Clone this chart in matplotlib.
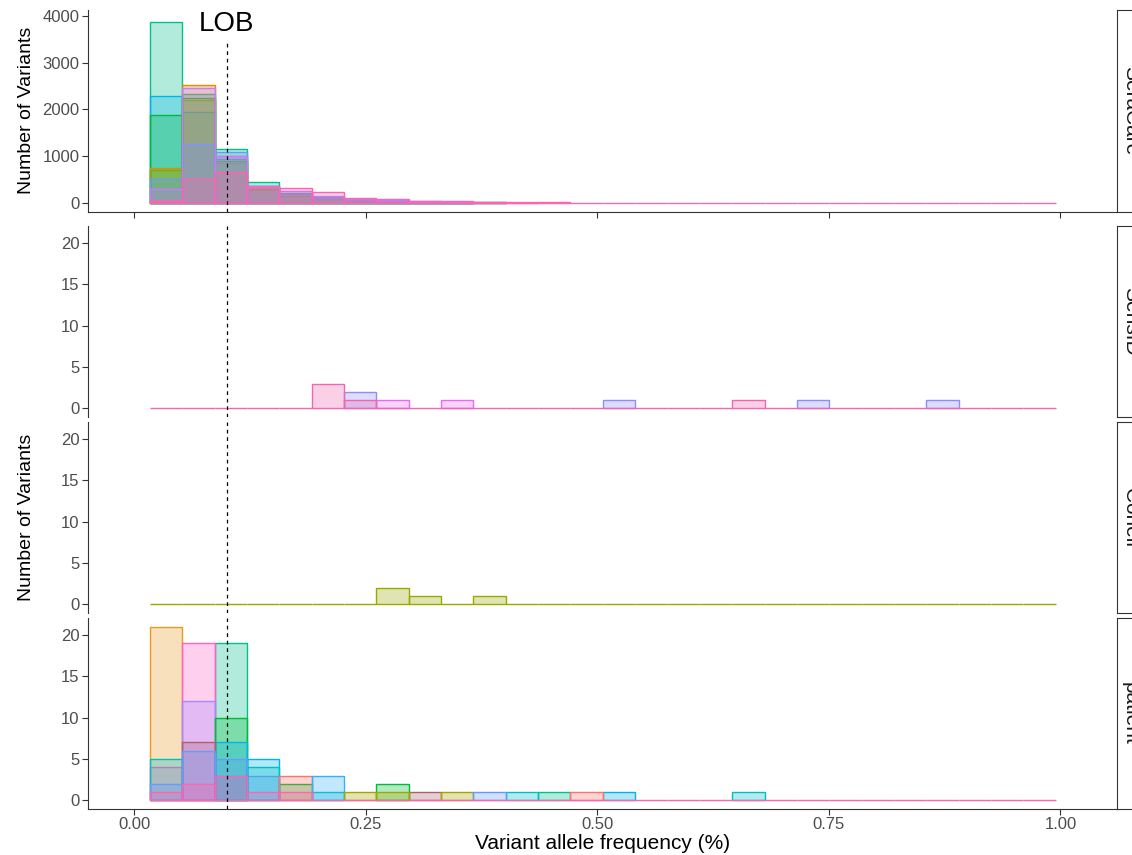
import numpy as np
import matplotlib
matplotlib.use('Agg')
import matplotlib.pyplot as plt

plt.rcParams['font.family'] = ['Liberation Sans', 'DejaVu Sans']

# bins of the histogram (28 bins over the observed VAF range)
vaf_min = 0.017
vaf_max = 0.995
n_bins = 28
lob = 0.1

# SeraCare counts per bin, one list per sample
sc_mint   = [3870, 2330, 1155, 455, 210, 130, 70, 50, 30, 20, 12, 0, 0, 0, 0, 0, 0, 0, 0, 0, 0, 0, 0, 0, 0, 0, 0, 0]
sc_cyan   = [2290, 1940, 940, 365, 200, 120, 60, 40, 25, 15, 10, 0, 0, 0, 0, 0, 0, 0, 0, 0, 0, 0, 0, 0, 0, 0, 0, 0]
sc_green  = [1890, 2240, 900, 300, 160, 90, 50, 30, 20, 10, 0, 0, 0, 0, 0, 0, 0, 0, 0, 0, 0, 0, 0, 0, 0, 0, 0, 0]
sc_orange = [750, 2517, 1000, 330, 180, 100, 55, 35, 20, 12, 0, 0, 0, 0, 0, 0, 0, 0, 0, 0, 0, 0, 0, 0, 0, 0, 0, 0]
sc_olive  = [700, 2200, 850, 280, 150, 90, 45, 30, 18, 10, 0, 0, 0, 0, 0, 0, 0, 0, 0, 0, 0, 0, 0, 0, 0, 0, 0, 0]
sc_blue   = [520, 1260, 1090, 365, 200, 110, 60, 35, 20, 12, 0, 0, 0, 0, 0, 0, 0, 0, 0, 0, 0, 0, 0, 0, 0, 0, 0, 0]
sc_purple = [300, 2460, 1000, 350, 250, 150, 80, 60, 35, 25, 15, 10, 0, 0, 0, 0, 0, 0, 0, 0, 0, 0, 0, 0, 0, 0, 0, 0]
sc_pink   = [60, 510, 670, 370, 320, 235, 100, 80, 50, 40, 25, 20, 15, 10, 8, 6, 5, 4, 3, 3, 2, 2, 1, 1, 1, 1, 1, 0]

# SensID
sid_lav     = [0, 0, 0, 0, 0, 0, 2, 0, 0, 0, 0, 0, 0, 0, 1, 0, 0, 0, 0, 0, 1, 0, 0, 0, 1, 0, 0, 0]
sid_magenta = [0, 0, 0, 0, 0, 0, 0, 1, 0, 1, 0, 0, 0, 0, 0, 0, 0, 0, 0, 0, 0, 0, 0, 0, 0, 0, 0, 0]
sid_pink    = [0, 0, 0, 0, 0, 3, 1, 0, 0, 0, 0, 0, 0, 0, 0, 0, 0, 0, 1, 0, 0, 0, 0, 0, 0, 0, 0, 0]

# Coriell
cor_olive = [0, 0, 0, 0, 0, 0, 0, 2, 1, 0, 1, 0, 0, 0, 0, 0, 0, 0, 0, 0, 0, 0, 0, 0, 0, 0, 0, 0]

# patient
pt_orange = [21, 0, 0, 0, 0, 0, 0, 0, 0, 0, 0, 0, 0, 0, 0, 0, 0, 0, 0, 0, 0, 0, 0, 0, 0, 0, 0, 0]
pt_mint   = [0, 0, 19, 0, 0, 0, 0, 0, 0, 0, 0, 0, 1, 0, 0, 0, 0, 0, 0, 0, 0, 0, 0, 0, 0, 0, 0, 0]
pt_pink   = [4, 19, 0, 0, 0, 0, 0, 0, 0, 0, 0, 0, 0, 0, 0, 0, 0, 0, 0, 0, 0, 0, 0, 0, 0, 0, 0, 0]
pt_purple = [0, 12, 3, 3, 0, 0, 0, 0, 0, 0, 0, 0, 0, 0, 0, 0, 0, 0, 0, 0, 0, 0, 0, 0, 0, 0, 0, 0]
pt_green  = [0, 0, 10, 0, 2, 0, 0, 2, 0, 0, 0, 0, 0, 0, 0, 0, 0, 0, 0, 0, 0, 0, 0, 0, 0, 0, 0, 0]
pt_cyan   = [0, 0, 7, 5, 0, 0, 0, 0, 0, 0, 0, 0, 0, 0, 1, 0, 0, 0, 0, 0, 0, 0, 0, 0, 0, 0, 0, 0]
pt_teal   = [5, 0, 0, 4, 0, 1, 0, 0, 0, 0, 0, 1, 0, 0, 0, 0, 0, 0, 1, 0, 0, 0, 0, 0, 0, 0, 0, 0]
pt_salmon = [0, 0, 0, 0, 3, 0, 0, 0, 0, 0, 0, 0, 0, 1, 0, 0, 0, 0, 0, 0, 0, 0, 0, 0, 0, 0, 0, 0]
pt_sky    = [0, 0, 0, 0, 0, 3, 0, 0, 0, 0, 0, 0, 0, 0, 0, 0, 0, 0, 0, 0, 0, 0, 0, 0, 0, 0, 0, 0]
pt_rose   = [0, 7, 0, 0, 0, 0, 0, 0, 1, 0, 0, 0, 0, 0, 0, 0, 0, 0, 0, 0, 0, 0, 0, 0, 0, 0, 0, 0]
pt_olive  = [0, 0, 0, 0, 0, 0, 1, 1, 0, 1, 0, 0, 0, 0, 0, 0, 0, 0, 0, 0, 0, 0, 0, 0, 0, 0, 0, 0]
pt_blue   = [2, 6, 5, 0, 0, 0, 0, 0, 0, 0, 1, 0, 0, 0, 0, 0, 0, 0, 0, 0, 0, 0, 0, 0, 0, 0, 0, 0]
pt_pink2  = [1, 2, 3, 1, 1, 0, 0, 0, 0, 0, 0, 0, 0, 0, 0, 0, 0, 0, 0, 0, 0, 0, 0, 0, 0, 0, 0, 0]

paneles = [
    ('SeraCare', [(sc_mint, '#00C08B'), (sc_cyan, '#00B4F0'), (sc_green, '#00BA38'),
                  (sc_orange, '#DE8C00'), (sc_olive, '#7CAE00'), (sc_blue, '#619CFF'),
                  (sc_purple, '#C77CFF'), (sc_pink, '#FF64B0')]),
    ('SensID', [(sid_lav, '#8F8CFF'), (sid_magenta, '#E76BF3'), (sid_pink, '#F066B0')]),
    ('Coriell', [(cor_olive, '#9BA800')]),
    ('patient', [(pt_orange, '#E69A1E'), (pt_mint, '#00C08B'), (pt_pink, '#FF61C9'),
                 (pt_purple, '#A58AFF'), (pt_green, '#00BA38'), (pt_cyan, '#00B4F0'),
                 (pt_teal, '#00BFC4'), (pt_salmon, '#F8766D'), (pt_sky, '#35B0FF'),
                 (pt_rose, '#A8636E'), (pt_olive, '#A3A500'), (pt_blue, '#619CFF'),
                 (pt_pink2, '#FF64B0')]),
]

edges = np.linspace(vaf_min, vaf_max, n_bins + 1)
width = edges[1] - edges[0]

W, H = 1132, 855
fig = plt.figure(figsize=(W / 100, H / 100), dpi=100)

# posicion de los paneles en pixeles (arriba, abajo)
filas = [(10, 212), (226, 417), (422, 613), (618, 809)]
x0, x1 = 88, 1117
xlim = (-0.0497, 1.061)
gris = '#4D4D4D'

for i, ((nombre, series), (top, bot)) in enumerate(zip(paneles, filas)):
    ax = fig.add_axes([x0 / W, 1 - bot / H, (x1 - x0) / W, (bot - top) / H])
    for j, (counts, color) in enumerate(series):
        counts = np.array(counts)
        # solo la ultima muestra deja ver la linea de base (bins vacios)
        if j < len(series) - 1:
            keep = counts > 0
        else:
            keep = np.ones(n_bins, dtype=bool)
        ax.bar(edges[:-1][keep], counts[keep], width=width, align='edge',
               facecolor=matplotlib.colors.to_rgba(color, 0.3),
               edgecolor=color, linewidth=1.0)
    ax.set_xlim(*xlim)
    for s in ['top', 'right']:
        ax.spines[s].set_visible(False)
    ax.spines['left'].set_color('#333333')
    ax.spines['bottom'].set_color('#333333')
    ax.tick_params(colors='#333333', labelcolor=gris, labelsize=12, length=4, width=0.8, pad=2)
    ax.set_xticks([0, 0.25, 0.5, 0.75, 1.0])
    if i == 0:
        ax.set_ylim(-193, 4128)
        ax.set_yticks([0, 1000, 2000, 3000, 4000])
        ax.set_xticklabels([])
        ax.vlines(lob, -193, 3470, colors='black', linestyles=(0, (3, 3)), linewidth=0.9)
        ax.text(lob, 3830, 'LOB', ha='center', va='center', fontsize=20)
    else:
        ax.set_ylim(-1.05, 22.05)
        ax.set_yticks([0, 5, 10, 15, 20])
        ax.axvline(lob, color='black', linestyle=(0, (3, 3)), linewidth=0.9)
        if i < 3:
            ax.spines['bottom'].set_visible(False)
            ax.tick_params(axis='x', bottom=False, labelbottom=False)
        else:
            ax.set_xticklabels(['0.00', '0.25', '0.50', '0.75', '1.00'])
            ax.set_xlabel('Variant allele frequency (%)', fontsize=15, labelpad=1)

    # strip a la derecha (cortado por el borde de la figura)
    sax = fig.add_axes([x1 / W, 1 - bot / H, 34 / W, (bot - top) / H])
    sax.set_xticks([])
    sax.set_yticks([])
    for s in sax.spines.values():
        s.set_color('#333333')
        s.set_linewidth(0.8)
    sax.text(0.4, 0.5, nombre, rotation=-90, ha='center', va='center',
             fontsize=15, color='#1A1A1A', transform=sax.transAxes)

fig.text(27 / W, 1 - 110 / H, 'Number of Variants', rotation=90,
         ha='center', va='center', fontsize=14)
fig.text(27 / W, 1 - 517 / H, 'Number of Variants', rotation=90,
         ha='center', va='center', fontsize=14)

fig.savefig('out.png', dpi=100)
